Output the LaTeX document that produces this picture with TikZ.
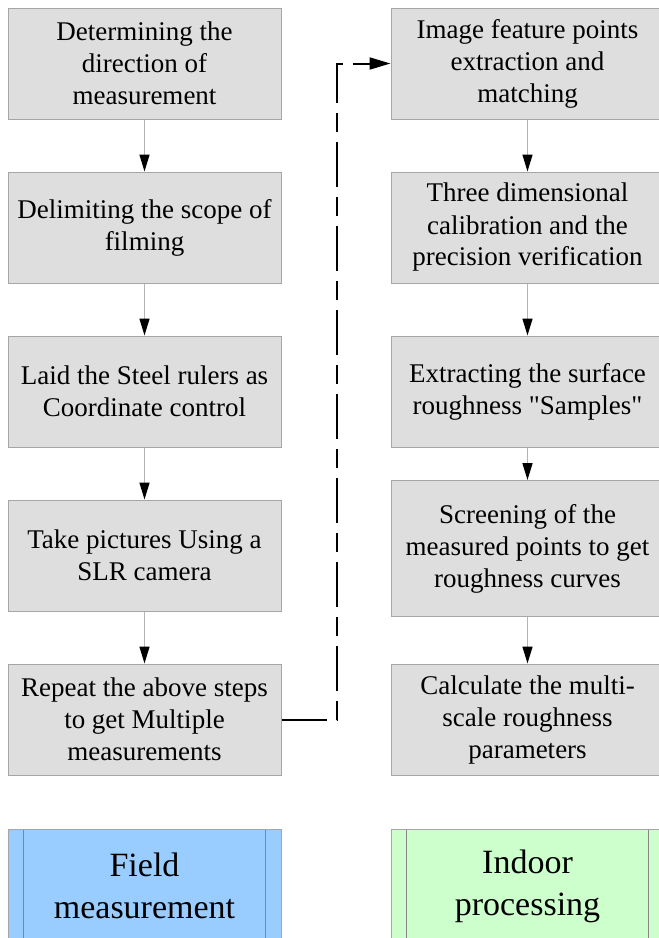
\documentclass[tikz,border=0pt]{standalone}
\usepackage{fontspec}
\newfontfamily\stagefont{Liberation Serif}
\usetikzlibrary{positioning,arrows.meta}
\definecolor{stagefill}{HTML}{DEDEDE}
\definecolor{stageedge}{HTML}{A6A6A6}
\definecolor{flowgray}{HTML}{B4B4B4}
\definecolor{fieldblue}{HTML}{99CCFF}
\definecolor{indoorgreen}{HTML}{CCFFCC}

\begin{document}
\begin{tikzpicture}[x=1pt,y=1pt,node distance=164pt,on grid,
   stage/.style={draw=stageedge,fill=stagefill,line width=1pt,minimum width=273pt,
     minimum height=111pt,inner sep=0pt,align=center,font=\stagefont\fontsize{27pt}{32pt}\selectfont},
   phase/.style={stage,minimum height=114pt,font=\stagefont\fontsize{34pt}{42pt}\selectfont,
     path picture={\draw[stageedge!80!black,line width=1pt]
       ([xshift=15.5pt]path picture bounding box.north west) -- ([xshift=15.5pt]path picture bounding box.south west)
       ([xshift=-15.5pt]path picture bounding box.north east) -- ([xshift=-15.5pt]path picture bounding box.south east);}},
   flow/.style={draw=flowgray,line width=1.5pt,-{Triangle[length=17pt,width=10pt,color=black]}},
   link/.style={draw=black,line width=2pt,dash pattern=on 45pt off 10pt on 19pt off 10pt,
     -{Triangle[length=21pt,width=12pt]}}]
   \clip (0,0) rectangle (659,-938);
   % field measurement
   \node[stage] (f_1) at (144.5,-63.5) {Determining the\\direction of\\measurement};
   \node[stage] (f_2) [below=of f_1] {Delimiting the scope of\\filming};
   \node[stage] (f_3) [below=of f_2] {Laid the Steel rulers as\\Coordinate control};
   \node[stage] (f_4) [below=of f_3] {Take pictures Using a\\SLR camera};
   \node[stage] (f_5) [below=of f_4] {Repeat the above steps\\to get Multiple\\measurements};
   % indoor processing
   \node[stage] (p_1) [right=383pt of f_1] {Image feature points\\extraction and\\matching};
   \node[stage] (p_2) [below=of p_1] {Three dimensional\\calibration and the\\precision verification};
   \node[stage] (p_3) [below=of p_2] {Extracting the surface\\roughness "Samples"};
   \node[stage,minimum height=136pt] (p_4) [below=157pt of p_3] {Screening of the\\measured points to get\\roughness curves};
   \node[stage] (p_5) [right=383pt of f_5] {Calculate the multi-\\scale roughness\\parameters};
   % phases
   \node[phase,fill=fieldblue] (field) [below=166.5pt of f_5] {Field\\measurement};
   \node[phase,fill=indoorgreen] (indoor) [right=383pt of field] {Indoor\\processing};
    \path
    (f_1) edge[flow] (f_2)
    (f_2) edge[flow] (f_3)
    (f_3) edge[flow] (f_4)
    (f_4) edge[flow] (f_5)
    (p_1) edge[flow] (p_2)
    (p_2) edge[flow] (p_3)
    (p_3) edge[flow] (p_4)
    (p_4) edge[flow] (p_5);
   \draw[link] (f_5.east) -- ++(55pt,0) |- (p_1.west);
\end{tikzpicture}
\end{document}
